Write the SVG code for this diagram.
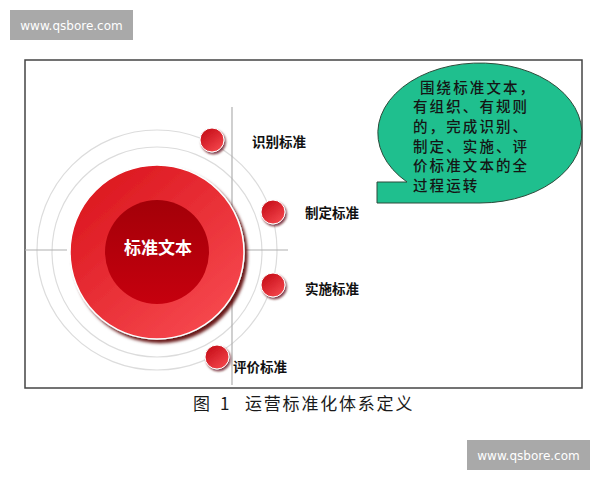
<svg xmlns="http://www.w3.org/2000/svg" width="600" height="480" viewBox="0 0 600 480">
<defs>
<style>
.wm{fill:#a9a9a9}
.wmt{fill:#fff;font-family:"DejaVu Sans","Liberation Sans",sans-serif;font-size:12px}
.ring{fill:none;stroke:#dcdcdc;stroke-width:1.2}
.conn{stroke:#b0b0b0;stroke-width:1.2;fill:none}
.lbl{font-family:"Noto Sans CJK SC","Noto Sans",sans-serif;font-weight:bold;font-size:13.5px;fill:#111}
.bt{font-family:"Noto Sans CJK SC","Noto Sans",sans-serif;font-size:14.5px;letter-spacing:2.1px;font-weight:500;fill:#151515}
.cap{font-family:"Noto Sans CJK SC","Noto Sans",sans-serif;font-size:17px;fill:#1a1a1a}
.small{fill:url(#smallGrad);stroke:#fff;stroke-width:1;filter:url(#sh)}
</style>
<linearGradient id="bigGrad" x1="0.15" y1="0.1" x2="0.85" y2="0.9">
<stop offset="0" stop-color="#dc1820"/>
<stop offset="1" stop-color="#f6484e"/>
</linearGradient>
<linearGradient id="innerGrad" x1="0" y1="0" x2="0" y2="1">
<stop offset="0" stop-color="#a30008"/>
<stop offset="1" stop-color="#c6000e"/>
</linearGradient>
<linearGradient id="smallGrad" x1="0.2" y1="0.1" x2="0.8" y2="0.9">
<stop offset="0" stop-color="#c8101a"/>
<stop offset="1" stop-color="#f2434a"/>
</linearGradient>
<filter id="sh" x="-30%" y="-30%" width="170%" height="170%">
<feDropShadow dx="1.5" dy="2" stdDeviation="1" flood-color="#5a0008" flood-opacity="0.75"/>
</filter>
<filter id="bigsh" x="-20%" y="-20%" width="140%" height="140%">
<feDropShadow dx="3" dy="3.5" stdDeviation="1.5" flood-color="#5a0006" flood-opacity="0.9"/>
</filter>
</defs>
<rect width="600" height="480" fill="#fff"/>
<g id="watermark-top">
<rect class="wm" x="10" y="10" width="123" height="30"/>
<text class="wmt" x="71.5" y="29.5" text-anchor="middle">www.qsbore.com</text>
</g>
<g id="watermark-bottom">
<rect class="wm" x="467" y="440" width="123" height="30"/>
<text class="wmt" x="528.5" y="459.5" text-anchor="middle">www.qsbore.com</text>
</g>
<rect id="frame" x="25" y="60" width="557" height="328" fill="none" stroke="#444" stroke-width="1.5"/>
<g id="rings">
<circle class="ring" cx="157" cy="250" r="120"/>
<circle class="ring" cx="157" cy="252" r="105"/>
</g>
<g id="connectors">
<line class="conn" x1="232" y1="107" x2="232" y2="385"/>
<line class="conn" x1="25" y1="250" x2="67" y2="250"/>
<line class="conn" x1="246" y1="250" x2="288" y2="250"/>
</g>
<g id="node-center">
<circle cx="157" cy="252" r="87" fill="url(#bigGrad)" stroke="#fff" stroke-width="1.5" filter="url(#bigsh)"/>
<circle cx="157" cy="252" r="52" fill="url(#innerGrad)"/>
<text x="158" y="254" text-anchor="middle" font-family="'Noto Sans CJK SC','Noto Sans',sans-serif" font-weight="bold" font-size="17" fill="#fff">标准文本</text>
</g>
<g id="node-identify">
<circle class="small" cx="212" cy="140" r="12"/>
<text class="lbl" x="252" y="147">识别标准</text>
</g>
<g id="node-formulate">
<circle class="small" cx="273" cy="212" r="12"/>
<text class="lbl" x="305" y="218">制定标准</text>
</g>
<g id="node-implement">
<circle class="small" cx="273" cy="285" r="12"/>
<text class="lbl" x="305" y="294">实施标准</text>
</g>
<g id="node-evaluate">
<circle class="small" cx="217" cy="357" r="12"/>
<text class="lbl" x="233" y="372">评价标准</text>
</g>
<g id="bubble">
<path d="M407,182 A102,70 0 1 1 480,203 L377,203 L377,182 Z" fill="#1fbf8e" stroke="#2d4a3a" stroke-width="1"/>
<text class="bt"><tspan x="420" y="92.5">围绕标准文本，</tspan><tspan x="413" y="112.2">有组织、有规则</tspan><tspan x="413" y="131.9">的，完成识别、</tspan><tspan x="413" y="151.6">制定、实施、评</tspan><tspan x="413" y="171.3">价标准文本的全</tspan><tspan x="413" y="191">过程运转</tspan></text>
</g>
<g id="caption">
<text class="cap" y="410"><tspan x="193">图</tspan><tspan x="220">1</tspan></text>
<text class="cap" x="245" y="410" letter-spacing="1.8">运营标准化体系定义</text>
</g>
</svg>
